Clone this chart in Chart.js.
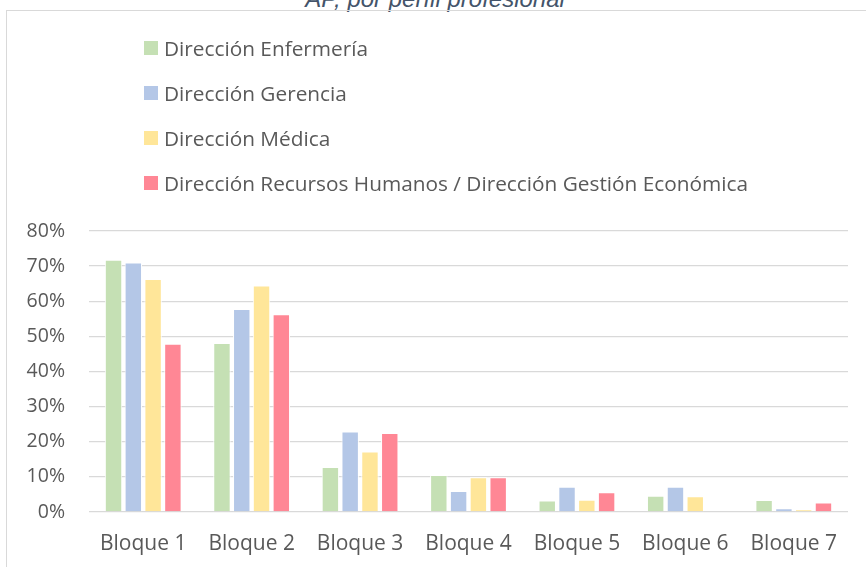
<!DOCTYPE html>
<html lang="es">
<head>
    <meta charset="UTF-8">
    <title>AP, por perfil profesional</title>
    <style>
        body {
            margin: 0;
            width: 866px;
            height: 567px;
            overflow: hidden;
            background: #ffffff;
            font-family: "Open Sans", Arial, sans-serif;
            position: relative;
        }

        .titulo {
            position: absolute;
            top: -13px;
            left: 0;
            width: 870px;
            text-align: center;
            font-style: italic;
            font-size: 24px;
            line-height: 24px;
            color: #44546a;
            font-family: "Liberation Sans", Arial, sans-serif;
        }

        .marco {
            position: absolute;
            left: 6px;
            top: 10px;
            width: 900px;
            height: 600px;
            border: 1px solid #d9d9d9;
        }

        .leyenda {
            position: absolute;
            left: 144px;
            top: 25px;
            color: #595959;
            font-size: 20.8px;
        }

        .leyenda div {
            height: 45px;
            display: flex;
            align-items: center;
            line-height: 26px;
            white-space: nowrap;
        }

        .leyenda span {
            display: inline-block;
            width: 14px;
            height: 14px;
            margin-right: 6px;
        }

        #grafico {
            position: absolute;
            left: 0;
            top: 0;
        }
    </style>
    <script src="https://cdn.jsdelivr.net/npm/chart.js"></script>
</head>
<body>

    <div class="titulo">AP, por perfil profesional</div>
    <div class="marco"></div>
    <canvas id="grafico" width="866" height="567"></canvas>
    <div class="leyenda" id="leyenda"></div>

    <script>
        // Bloques del cuestionario
        const bloques = ['Bloque 1', 'Bloque 2', 'Bloque 3', 'Bloque 4', 'Bloque 5', 'Bloque 6', 'Bloque 7'];

        // Porcentajes por perfil profesional
        const enfermeria = [0.718, 0.481, 0.128, 0.105, 0.033, 0.046, 0.034];
        const gerencia = [0.710, 0.578, 0.229, 0.060, 0.072, 0.072, 0.011];
        const medica = [0.663, 0.645, 0.172, 0.099, 0.035, 0.045, 0.008];
        const rrhh = [0.479, 0.563, 0.225, 0.099, 0.056, 0, 0.027];

        const perfiles = ['Dirección Enfermería', 'Dirección Gerencia', 'Dirección Médica',
            'Dirección Recursos Humanos / Dirección Gestión Económica'];
        const colores = ['#c5e0b4', '#b4c7e7', '#ffe699', '#ff8795'];
        const series = [enfermeria, gerencia, medica, rrhh];

        // Leyenda vertical
        const leyenda = document.getElementById('leyenda');
        perfiles.forEach((p, i) => {
            const fila = document.createElement('div');
            fila.innerHTML = `<span style="background:${colores[i]}"></span>${p}`;
            leyenda.appendChild(fila);
        });

        const textoGris = '#595959';

        new Chart(document.getElementById('grafico'), {
            type: 'bar',
            data: {
                labels: bloques,
                datasets: series.map((d, i) => ({
                    label: perfiles[i],
                    data: d,
                    backgroundColor: colores[i],
                    borderColor: '#ffffff',
                    borderWidth: 1,
                    categoryPercentage: 0.73,
                    barPercentage: 0.88
                }))
            },
            options: {
                responsive: false,
                animation: false,
                layout: {
                    padding: { top: 231, right: 18, bottom: 0, left: 0 }
                },
                plugins: {
                    legend: { display: false },
                    tooltip: { enabled: false }
                },
                scales: {
                    x: {
                        grid: { display: false },
                        border: { display: false },
                        ticks: {
                            color: textoGris,
                            padding: 11,
                            font: { family: 'Open Sans', size: 21 }
                        },
                        afterFit: (s) => { s.height = 55; }
                    },
                    y: {
                        min: 0,
                        max: 0.8,
                        grid: { color: '#d9d9d9', lineWidth: 1.3, drawTicks: false },
                        border: { display: false },
                        ticks: {
                            stepSize: 0.1,
                            color: textoGris,
                            padding: 24,
                            font: { family: 'Open Sans', size: 19.5 },
                            callback: (v) => Math.round(v * 100) + '%'
                        },
                        afterFit: (s) => { s.width = 89; }
                    }
                }
            }
        });
    </script>
</body>
</html>
